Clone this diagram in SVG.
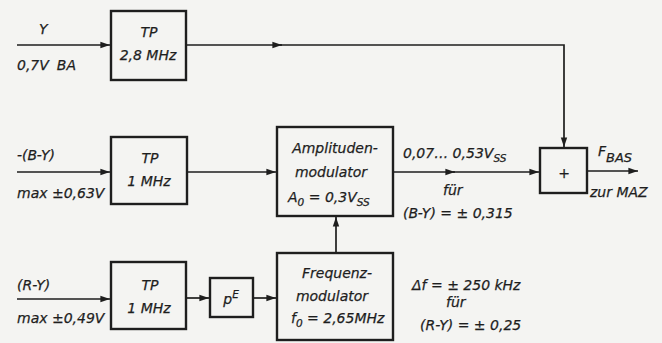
<svg xmlns="http://www.w3.org/2000/svg" width="662" height="343" viewBox="0 0 662 343">
<defs>
<marker id="ah" viewBox="0 0 12 10" refX="12" refY="5" markerWidth="12" markerHeight="8" markerUnits="userSpaceOnUse" orient="auto">
<path d="M0,1 L12,5 L0,9 z" fill="#1e1e1e"/>
</marker>
<style>
.b{fill:none;stroke:#1e1e1e;stroke-width:2.4}
.l{fill:none;stroke:#1e1e1e;stroke-width:1.7}
.t{font-family:"DejaVu Sans","Liberation Sans",sans-serif;font-style:italic;font-size:14px;fill:#1e1e1e;stroke:#1e1e1e;stroke-width:0.25}
.m{text-anchor:middle}
.s{font-size:10.5px}
</style>
</defs>
<rect width="662" height="343" fill="#f4f4f2"/>
<g id="connectors">
<line class="l" x1="17" y1="45" x2="110" y2="45" marker-end="url(#ah)"/>
<line class="l" x1="186" y1="45" x2="282" y2="45" marker-end="url(#ah)"/>
<polyline class="l" points="280,45 564,45 564,147" marker-end="url(#ah)"/>
<line class="l" x1="17" y1="172" x2="110" y2="172" marker-end="url(#ah)"/>
<line class="l" x1="187" y1="172" x2="276" y2="172" marker-end="url(#ah)"/>
<line class="l" x1="393" y1="172" x2="455" y2="172" marker-end="url(#ah)"/>
<line class="l" x1="453" y1="172" x2="539" y2="172" marker-end="url(#ah)"/>
<line class="l" x1="587" y1="171" x2="638" y2="171" marker-end="url(#ah)"/>
<line class="l" x1="17" y1="299" x2="110" y2="299" marker-end="url(#ah)"/>
<line class="l" x1="186" y1="298" x2="209" y2="298" marker-end="url(#ah)"/>
<line class="l" x1="253" y1="298" x2="276" y2="298" marker-end="url(#ah)"/>
<line class="l" x1="336" y1="253" x2="336" y2="217" marker-end="url(#ah)"/>
</g>
<g id="in-y">
<text class="t" x="39" y="34">Y</text>
<text class="t" x="17" y="70">0,7V<tspan dx="8">BA</tspan></text>
</g>
<g id="tp28">
<rect class="b" x="111" y="11" width="75" height="69"/>
<text class="t m" x="149" y="37">TP</text>
<text class="t m" x="148" y="60">2,8 MHz</text>
</g>
<g id="in-by">
<text class="t" x="17" y="160">-(B-Y)</text>
<text class="t" x="17" y="198">max ±0,63V</text>
</g>
<g id="tp1a">
<rect class="b" x="111" y="137" width="76" height="67"/>
<text class="t m" x="150" y="163">TP</text>
<text class="t m" x="149" y="186">1 MHz</text>
</g>
<g id="amod">
<rect class="b" x="277" y="127" width="116" height="89"/>
<text class="t m" x="335" y="153">Amplituden-</text>
<text class="t m" x="331" y="177">modulator</text>
<text class="t" x="288" y="202">A<tspan class="s" dy="4">0</tspan><tspan dy="-4"> = 0,3V</tspan><tspan class="s" dy="4">SS</tspan></text>
</g>
<g id="amod-out">
<text class="t" x="403" y="158">0,07… 0,53V<tspan class="s" dy="4">SS</tspan></text>
<text class="t" x="443" y="195">für</text>
<text class="t" x="403" y="218">(B-Y) = ± 0,315</text>
</g>
<g id="sum">
<rect class="b" x="540" y="148" width="47" height="45"/>
<text class="t m" x="564" y="178" font-size="18">+</text>
</g>
<g id="out">
<text class="t" x="598" y="156">F<tspan dy="6" font-size="13">BAS</tspan></text>
<text class="t" x="590" y="197">zur MAZ</text>
</g>
<g id="in-ry">
<text class="t" x="17" y="290">(R-Y)</text>
<text class="t" x="17" y="323">max ±0,49V</text>
</g>
<g id="tp1b">
<rect class="b" x="111" y="262" width="75" height="67"/>
<text class="t m" x="150" y="290">TP</text>
<text class="t m" x="149" y="313">1 MHz</text>
</g>
<g id="pe">
<rect class="b" x="210" y="278" width="43" height="39"/>
<text class="t m" x="231" y="304">p<tspan class="s" dy="-6">E</tspan></text>
</g>
<g id="fmod">
<rect class="b" x="277" y="253" width="116" height="87"/>
<text class="t m" x="337" y="278">Frequenz-</text>
<text class="t m" x="332" y="301">modulator</text>
<text class="t" x="291" y="323">f<tspan class="s" dy="4">0</tspan><tspan dy="-4"> = 2,65MHz</tspan></text>
</g>
<g id="fmod-note">
<text class="t" x="412" y="290">Δf = ± 250 kHz</text>
<text class="t" x="446" y="307">für</text>
<text class="t" x="420" y="330">(R-Y) = ± 0,25</text>
</g>
</svg>
